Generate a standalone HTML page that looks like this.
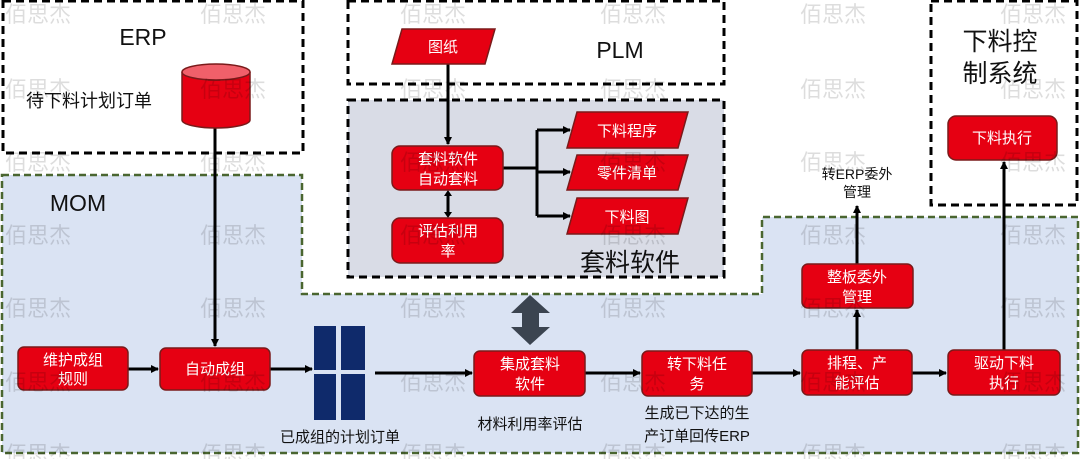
<!DOCTYPE html>
<html><head><meta charset="utf-8"><style>
html,body{margin:0;padding:0;background:#fff;}
svg{display:block;font-family:"Liberation Sans","Noto Sans CJK SC",sans-serif;}
.n{fill:#e60012;stroke:#7a1a1a;stroke-width:1.5;}
.t{fill:#fff;font-size:15px;text-anchor:middle;}
.k{fill:#111;text-anchor:middle;}
.w{fill:#000;opacity:0.13;font-size:22px;}
</style></head><body>
<svg width="1080" height="459" viewBox="0 0 1080 459" xmlns="http://www.w3.org/2000/svg">
<defs><marker id="a" markerWidth="8" markerHeight="8" refX="7" refY="4" orient="auto" markerUnits="userSpaceOnUse"><path d="M0,0 L8,4 L0,8z" fill="#000"/></marker></defs>
<!-- MOM region -->
<path d="M2,175 H302 V294 H762 V217 H1078 V453 H2 Z" fill="#dae3f3" stroke="#4a6630" stroke-width="2.5" stroke-dasharray="7,4"/>
<!-- boxes -->
<rect x="3" y="1" width="300" height="152" fill="#fff" stroke="#000" stroke-width="3" stroke-dasharray="8,5"/>
<rect x="348" y="1" width="376" height="83" fill="#fff" stroke="#000" stroke-width="3" stroke-dasharray="8,5"/>
<rect x="348" y="100" width="376" height="177" fill="#d9dce6" stroke="#000" stroke-width="3" stroke-dasharray="8,5"/>
<rect x="931" y="1" width="146" height="204" fill="#fff" stroke="#000" stroke-width="3" stroke-dasharray="8,5"/>
<!-- titles -->
<text x="143" y="45" class="k" font-size="23">ERP</text>
<text x="620" y="58" class="k" font-size="23">PLM</text>
<text x="78" y="211" class="k" font-size="23">MOM</text>
<text x="630" y="271" class="k" font-size="25">套料软件</text>
<text x="1000" y="50" class="k" font-size="25">下料控</text>
<text x="1000" y="82" class="k" font-size="25">制系统</text>
<text x="89" y="107" class="k" font-size="18">待下料计划订单</text>
<text x="857" y="179" class="k" font-size="14">转ERP委外</text>
<text x="857" y="197" class="k" font-size="14">管理</text>
<text x="340" y="442" class="k" font-size="15">已成组的计划订单</text>
<text x="530" y="429" class="k" font-size="15">材料利用率评估</text>
<text x="697" y="418" class="k" font-size="15">生成已下达的生</text>
<text x="697" y="441" class="k" font-size="15">产订单回传ERP</text>
<!-- connectors -->
<g stroke="#000" stroke-width="3" fill="none">
<line x1="215" y1="125" x2="215" y2="346" marker-end="url(#a)"/>
<line x1="448" y1="64" x2="448" y2="144" marker-end="url(#a)"/>
<line x1="503" y1="168" x2="537" y2="168"/>
<line x1="537" y1="130" x2="537" y2="216"/>
<line x1="537" y1="130" x2="570" y2="130" marker-end="url(#a)"/>
<line x1="537" y1="172" x2="570" y2="172" marker-end="url(#a)"/>
<line x1="537" y1="216" x2="570" y2="216" marker-end="url(#a)"/>
<line x1="448" y1="193" x2="448" y2="215"/>
<line x1="128" y1="369" x2="158" y2="369" marker-end="url(#a)"/>
<line x1="270" y1="369" x2="312" y2="369" marker-end="url(#a)"/>
<line x1="375" y1="373" x2="472" y2="373" marker-end="url(#a)"/>
<line x1="585" y1="373" x2="640" y2="373" marker-end="url(#a)"/>
<line x1="752" y1="373" x2="800" y2="373" marker-end="url(#a)"/>
<line x1="912" y1="373" x2="946" y2="373" marker-end="url(#a)"/>
<line x1="857" y1="350" x2="857" y2="310" marker-end="url(#a)"/>
<line x1="857" y1="264" x2="857" y2="206" marker-end="url(#a)"/>
<line x1="1004" y1="350" x2="1004" y2="162" marker-end="url(#a)"/>
</g>
<path d="M448,190 l-4,6 h8z M448,218 l-4,-6 h8z" fill="#000"/>
<!-- cylinder -->
<path d="M182,72 V120 A34,8 0 0 0 250,120 V72" fill="#e60012" stroke="#7a1a1a" stroke-width="1.5"/>
<ellipse cx="216" cy="72" rx="34" ry="8" fill="#f0606a" stroke="#7a1a1a" stroke-width="1.5"/>
<!-- parallelograms -->
<path class="n" d="M402,29 H495 L485,64 H392Z"/><text x="443" y="52" class="t">图纸</text>
<path class="n" d="M577,112 H688 L678,148 H567Z"/><text x="627" y="136" class="t">下料程序</text>
<path class="n" d="M577,155 H688 L678,190 H567Z"/><text x="627" y="178" class="t">零件清单</text>
<path class="n" d="M577,198 H688 L678,234 H567Z"/><text x="627" y="222" class="t">下料图</text>
<!-- rects -->
<rect class="n" x="392" y="146" width="111" height="44" rx="8"/><text x="448" y="164" class="t">套料软件</text><text x="448" y="184" class="t">自动套料</text>
<rect class="n" x="392" y="218" width="111" height="45" rx="8"/><text x="448" y="236" class="t">评估利用</text><text x="448" y="256" class="t">率</text>
<rect class="n" x="18" y="347" width="110" height="43" rx="6"/><text x="73" y="365" class="t">维护成组</text><text x="73" y="384" class="t">规则</text>
<rect class="n" x="160" y="348" width="110" height="42" rx="6"/><text x="215" y="374" class="t">自动成组</text>
<rect class="n" x="474" y="351" width="111" height="45" rx="6"/><text x="530" y="369" class="t">集成套料</text><text x="530" y="389" class="t">软件</text>
<rect class="n" x="642" y="351" width="110" height="45" rx="6"/><text x="697" y="369" class="t">转下料任</text><text x="697" y="389" class="t">务</text>
<rect class="n" x="802" y="350" width="110" height="45" rx="6"/><text x="857" y="368" class="t">排程、产</text><text x="857" y="388" class="t">能评估</text>
<rect class="n" x="948" y="350" width="112" height="45" rx="6"/><text x="1004" y="368" class="t">驱动下料</text><text x="1004" y="388" class="t">执行</text>
<rect class="n" x="802" y="264" width="111" height="44" rx="6"/><text x="857" y="282" class="t">整板委外</text><text x="857" y="302" class="t">管理</text>
<rect class="n" x="948" y="116" width="109" height="44" rx="8"/><text x="1002" y="143" class="t">下料执行</text>
<!-- blue bars -->
<g fill="#0f2a6b"><rect x="314" y="326" width="22" height="44"/><rect x="341" y="326" width="24" height="44"/><rect x="314" y="374" width="22" height="46"/><rect x="341" y="374" width="24" height="46"/></g>
<!-- double arrow -->
<path d="M530,295 L550,313 H539 V327 H550 L530,345 L511,327 H522 V313 H511Z" fill="#3b4450"/>
<!-- watermarks -->
<g class="w">
<text x="5" y="22">佰思杰</text><text x="200" y="22">佰思杰</text><text x="400" y="22">佰思杰</text><text x="600" y="22">佰思杰</text><text x="800" y="22">佰思杰</text><text x="1000" y="22">佰思杰</text>
<text x="5" y="97">佰思杰</text><text x="200" y="97">佰思杰</text><text x="400" y="97">佰思杰</text><text x="600" y="97">佰思杰</text><text x="800" y="97">佰思杰</text><text x="1000" y="97">佰思杰</text>
<text x="5" y="170">佰思杰</text><text x="200" y="170">佰思杰</text><text x="400" y="170">佰思杰</text><text x="600" y="170">佰思杰</text><text x="800" y="170">佰思杰</text><text x="1000" y="170">佰思杰</text>
<text x="5" y="243">佰思杰</text><text x="200" y="243">佰思杰</text><text x="400" y="243">佰思杰</text><text x="600" y="243">佰思杰</text><text x="800" y="243">佰思杰</text><text x="1000" y="243">佰思杰</text>
<text x="5" y="316">佰思杰</text><text x="200" y="316">佰思杰</text><text x="400" y="316">佰思杰</text><text x="600" y="316">佰思杰</text><text x="800" y="316">佰思杰</text><text x="1000" y="316">佰思杰</text>
<text x="5" y="390">佰思杰</text><text x="200" y="390">佰思杰</text><text x="400" y="390">佰思杰</text><text x="600" y="390">佰思杰</text><text x="800" y="390">佰思杰</text><text x="1000" y="390">佰思杰</text>
<text x="5" y="462">佰思杰</text><text x="200" y="462">佰思杰</text><text x="400" y="462">佰思杰</text><text x="600" y="462">佰思杰</text><text x="800" y="462">佰思杰</text><text x="1000" y="462">佰思杰</text>
</g>
</svg>
</body></html>
